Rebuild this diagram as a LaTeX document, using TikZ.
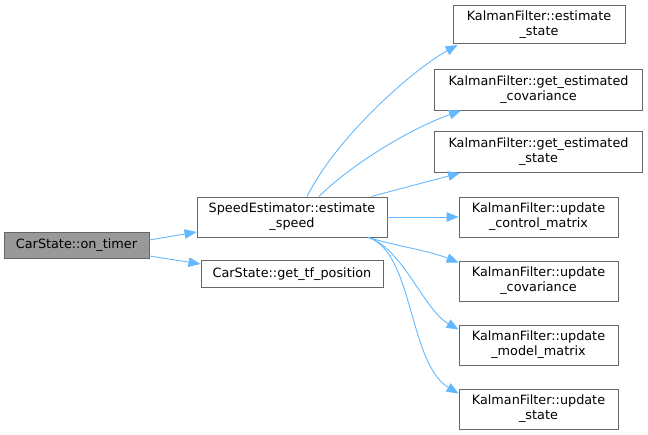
\documentclass[tikz,border=0pt]{standalone}
\usepackage{fontspec}
\setmainfont{DejaVu Sans}
\usetikzlibrary{arrows.meta}
\definecolor{edgecol}{HTML}{63B8FF}
\definecolor{boxline}{HTML}{666666}
\definecolor{curfill}{HTML}{999999}
\tikzset{
  fn/.style={draw=boxline, fill=white, line width=0.9pt, inner sep=0pt, align=center,
    font=\fontsize{12.8}{15}\selectfont},
  cur/.style={fn, fill=curfill},
  call/.style={draw=edgecol, line width=0.9pt, -{Triangle[length=12pt,width=9.5pt]}}
}
\begin{document}
\begin{tikzpicture}[x=1pt,y=-1pt]
\useasboundingbox (0,0) rectangle (648,435);
\node[cur, minimum width=145pt, minimum height=26pt] (ontimer) at (76.5,245) {CarState::on\_timer};
\node[fn, minimum width=190pt, minimum height=40pt] (speed) at (292,217) {SpeedEstimator::estimate\\\_speed};
\node[fn, minimum width=182pt, minimum height=27pt] (tf) at (292,274) {CarState::get\_tf\_position};
\node[fn, minimum width=172pt, minimum height=38pt] (es) at (539,24.5) {KalmanFilter::estimate\\\_state};
\node[fn, minimum width=208pt, minimum height=41pt] (gec) at (538.5,89.5) {KalmanFilter::get\_estimated\\\_covariance};
\node[fn, minimum width=208pt, minimum height=41pt] (ges) at (538.5,152) {KalmanFilter::get\_estimated\\\_state};
\node[fn, minimum width=159pt, minimum height=40pt] (ucm) at (538.5,217) {KalmanFilter::update\\\_control\_matrix};
\node[fn, minimum width=159pt, minimum height=40pt] (ucov) at (538.5,281) {KalmanFilter::update\\\_covariance};
\node[fn, minimum width=159pt, minimum height=40pt] (umm) at (538.5,345) {KalmanFilter::update\\\_model\_matrix};
\node[fn, minimum width=159pt, minimum height=40pt] (ust) at (538.5,409) {KalmanFilter::update\\\_state};

\draw[call] ([yshift=5pt]ontimer.east) -- ([yshift=-15pt]speed.west);
\draw[call] ([yshift=-11pt]ontimer.east) -- ([yshift=10pt]tf.west);

\draw[call] ([xshift=15pt]speed.north) .. controls +(30,-60) and +(-45,25) .. ([xshift=5pt,yshift=-1pt]es.south west);
\draw[call] ([xshift=27pt]speed.north) .. controls +(30,-30) and +(-55,20) .. ([xshift=27pt,yshift=0pt]gec.south west);
\draw[call] ([xshift=79pt]speed.north) -- ([xshift=26pt]ges.south west);
\draw[call] (speed.east) -- (ucm.west);
\draw[call] ([xshift=-19pt]speed.south east) .. controls +(25,8) and +(-30,-12) .. ([yshift=-2pt]ucov.north west);
\draw[call] ([xshift=-19pt]speed.south east) .. controls +(35,12) and +(-35,-20) .. ([yshift=-5pt]umm.north west);
\draw[call] ([xshift=-19pt]speed.south east) .. controls +(45,15) and +(-50,-30) .. ([yshift=-5pt]ust.north west);
\end{tikzpicture}
\end{document}
